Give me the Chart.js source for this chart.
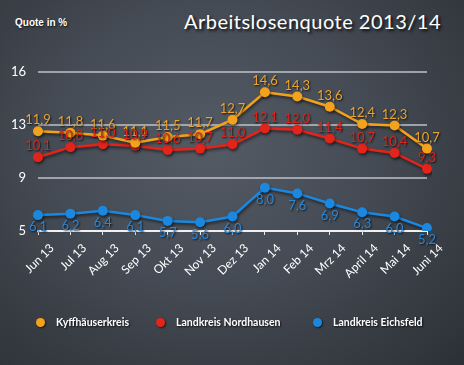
<!DOCTYPE html>
<html>
<head>
<meta charset="utf-8">
<script src="https://cdn.jsdelivr.net/npm/chart.js@4.4.0/dist/chart.umd.min.js"></script>
<style>
  html, body { margin: 0; padding: 0; }
  body {
    width: 464px; height: 365px; overflow: hidden; position: relative;
    background: radial-gradient(ellipse at 45% 40%, #555b64 0%, #454b54 45%, #2c3036 100%);
  }
  #wrap { position: absolute; left: 0; top: 0; width: 464px; height: 365px; }
  .unit {
    position: absolute; left: 15px; top: 17px; color: #fff;
    font: bold 10px "Liberation Sans", Arial, sans-serif;
    text-shadow: 1px 1px 2px rgba(0,0,0,0.8);
  }
  .title {
    position: absolute; right: 23px; top: 9px; color: #fff;
    font: 20px Lato, sans-serif; letter-spacing: 0.5px;
    text-shadow: 2px 2px 3px rgba(0,0,0,0.85);
  }
  #legend { position: absolute; left: 0; top: 314px; width: 464px; height: 18px; }
  .item {
    position: absolute; top: 0; color: #fff; white-space: nowrap;
    font: bold 10.5px Lato, sans-serif; line-height: 16px;
    text-shadow: 1px 1px 2px rgba(0,0,0,0.8);
  }
  .dot {
    position: absolute; top: 4px; width: 9px; height: 9px; border-radius: 50%;
    box-shadow: 1px 1px 2px rgba(0,0,0,0.6);
  }
</style>
</head>
<body>
<div class="unit">Quote in %</div>
<div class="title">Arbeitslosenquote 2013/14</div>
<div id="wrap"><canvas id="myChart" width="464" height="365"></canvas></div>
<div id="legend"></div>
<script>
var months = ['Jun 13', 'Jul 13', 'Aug 13', 'Sep 13', 'Okt 13', 'Nov 13', 'Dez 13',
              'Jan 14', 'Feb 14', 'Mrz 14', 'April 14', 'Mai 14', 'Juni 14']
var seriesNames = ['Kyffhäuserkreis', 'Landkreis Nordhausen', 'Landkreis Eichsfeld']
var kyffhaeuser = [11.9, 11.8, 11.6, 11.1, 11.5, 11.7, 12.7, 14.6, 14.3, 13.6, 12.4, 12.3, 10.7]
var nordhausen = [10.1, 10.8, 11.0, 10.9, 10.6, 10.7, 11.0, 12.1, 12.0, 11.4, 10.7, 10.4, 9.3]
var eichsfeld = [6.1, 6.2, 6.4, 6.1, 5.7, 5.6, 6.0, 8.0, 7.6, 6.9, 6.3, 6.0, 5.2]
var tickValues = [5, 8.667, 12.333, 16]
var tickLabels = ['5', '9', '13', '16']

var orange = '#f3a21c'
var red = '#e2241a'
var blue = '#1c87de'
var legendX = [36, 156, 313]

function fmt(v) {
    return v.toFixed(1).replace('.', ',')
}

// shadow under lines and points
var shadowPlugin = {
    id: 'shadow',
    beforeDatasetDraw: function (chart) {
        var ctx = chart.ctx
        ctx.save()
        ctx.shadowColor = 'rgba(0,0,0,0.55)'
        ctx.shadowBlur = 3
        ctx.shadowOffsetX = 1
        ctx.shadowOffsetY = 2
    },
    afterDatasetDraw: function (chart) {
        chart.ctx.restore()
    }
}

// the numbers next to each point
var valuePlugin = {
    id: 'values',
    afterDatasetsDraw: function (chart) {
        var ctx = chart.ctx
        ctx.save()
        ctx.font = '13px Lato, sans-serif'
        ctx.textAlign = 'center'
        ctx.textBaseline = 'middle'
        ctx.shadowColor = 'rgba(0,0,0,0.8)'
        ctx.shadowBlur = 2
        ctx.shadowOffsetX = 1
        ctx.shadowOffsetY = 1
        chart.data.datasets.forEach(function (ds, i) {
            var meta = chart.getDatasetMeta(i)
            meta.data.forEach(function (pt, j) {
                var dy = i == 2 ? 12 : -11
                ctx.fillStyle = ds.labelColor
                ctx.fillText(fmt(ds.data[j]), pt.x, pt.y + dy)
            })
        })
        ctx.restore()
    }
}

const config = {
    type: 'line',
    data: {
        labels: months,
        datasets: [{
            label: seriesNames[0],
            data: kyffhaeuser,
            borderColor: orange,
            backgroundColor: orange,
            labelColor: '#e9a332'
        }, {
            label: seriesNames[1],
            data: nordhausen,
            borderColor: red,
            backgroundColor: red,
            labelColor: '#d8261c'
        }, {
            label: seriesNames[2],
            data: eichsfeld,
            borderColor: blue,
            backgroundColor: blue,
            labelColor: '#2a86d6'
        }]
    },
    options: {
        responsive: false,
        animation: false,
        elements: {
            line: { borderWidth: 2.5, tension: 0 },
            point: { radius: 5, borderWidth: 0, hoverRadius: 5 }
        },
        layout: { padding: { top: 72, left: 0, right: 37, bottom: 0 } },
        plugins: {
            tooltip: { enabled: false },
            legend: { display: false }
        },
        scales: {
            x: {
                offset: false,
                ticks: {
                    color: '#fff',
                    font: { family: 'Lato, sans-serif', size: 12 },
                    minRotation: 45,
                    maxRotation: 45,
                    padding: 6,
                    labelOffset: 14
                },
                grid: { drawOnChartArea: false, drawTicks: true, tickLength: 4, color: '#e8e8e8' },
                border: { display: true, color: '#f0f0f0', width: 2 },
                afterFit: function (scale) { scale.height = 134 }
            },
            y: {
                min: 5,
                max: 16,
                afterBuildTicks: function (scale) {
                    scale.ticks = tickValues.map(function (v) { return { value: v } })
                },
                ticks: {
                    color: '#fff',
                    font: { family: 'Lato, sans-serif', size: 13 },
                    padding: 12,
                    callback: function (value, index) { return tickLabels[index] }
                },
                grid: { color: 'rgba(190,194,200,0.75)', lineWidth: 2, drawTicks: false },
                border: { display: false },
                afterFit: function (scale) { scale.width = 38 }
            }
        }
    },
    plugins: [shadowPlugin, valuePlugin]
}

const myChart = new Chart(document.getElementById('myChart'), config)

// legend below the chart
var legend = document.getElementById('legend')
myChart.data.datasets.forEach(function (ds, i) {
    var dot = document.createElement('div')
    dot.className = 'dot'
    dot.style.left = legendX[i] + 'px'
    dot.style.background = ds.borderColor
    legend.appendChild(dot)
    var item = document.createElement('div')
    item.className = 'item'
    item.style.left = (legendX[i] + 20) + 'px'
    item.textContent = ds.label
    legend.appendChild(item)
})
</script>
</body>
</html>
